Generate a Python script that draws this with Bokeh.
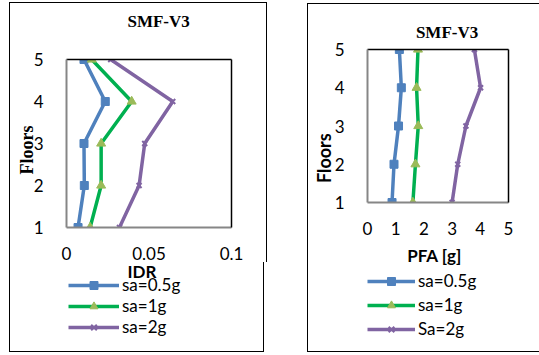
import math
from bokeh.plotting import figure
from bokeh.models import FixedTicker, LinearAxis, Legend, LegendItem, Label, Range1d, Spacer
from bokeh.layouts import row, column
from bokeh.embed import file_html
from bokeh.resources import INLINE

# ---------------- data ----------------
floors = [1, 2, 3, 4, 5]
idr_sa05 = [0.0070, 0.0108, 0.0106, 0.0235, 0.0106]
idr_sa1 = [0.0143, 0.0210, 0.0210, 0.0395, 0.0153]
idr_sa2 = [0.0321, 0.0440, 0.0474, 0.0644, 0.0268]
pfa_sa05 = [0.87, 0.94, 1.10, 1.20, 1.13]
pfa_sa1 = [1.61, 1.70, 1.80, 1.74, 1.79]
pfa_sa2 = [3.00, 3.20, 3.49, 4.01, 3.79]
idr_ticks = [0, 0.05, 0.1]
idr_tick_labels = ["0", "0.05", "0.1"]
pfa_ticks = [0, 1, 2, 3, 4, 5]
pfa_tick_labels = ["0", "1", "2", "3", "4", "5"]
floor_ticks = [1, 2, 3, 4, 5]
left_legend = ["sa=0.5g", "sa=1g", "sa=2g"]
right_legend = ["sa=0.5g", "sa=1g", "Sa=2g"]
title_text = "SMF-V3"

BLUE = "#4F81BD"
GREEN = "#00B050"
TRI = "#9BBB59"
PURPLE = "#8064A2"
SANS = "Lato"
SERIF = "Liberation Serif"
COLORS = [BLUE, GREEN, PURPLE]


def add_series(p, xs_list):
    out = []
    for i, xs in enumerate(xs_list):
        ln = p.line(xs, floors, line_color=COLORS[i], line_width=3.5)
        if i == 0:
            mk = p.scatter(xs, floors, marker="square", size=8, fill_color=BLUE, line_color=BLUE)
        elif i == 1:
            mk = p.scatter(xs, floors, marker="triangle", size=9, fill_color=TRI, line_color=TRI)
        else:
            mk = p.scatter(xs, floors, marker="x", size=7, line_color=PURPLE, line_width=2)
        out.append((ln, mk))
    return out


def make_main(xs_list, xr, ticks, tick_labels, frame, borders, width, height,
              title_pos, floors_pos, floors_font):
    fl, ft, fw, fh = frame
    bl, br, bt, bb = borders
    p = figure(width=width, height=height, frame_width=fw, frame_height=fh,
               x_range=Range1d(*xr), y_range=Range1d(1, 5),
               output_backend="svg", toolbar_location=None,
               min_border_left=bl, min_border_right=br, min_border_top=bt, min_border_bottom=bb,
               x_axis_location=None, y_axis_location=None)
    p.outline_line_color = None
    p.grid.visible = False
    p.background_fill_color = "white"
    p.border_fill_color = "white"

    xa = LinearAxis(ticker=FixedTicker(ticks=ticks),
                    major_label_overrides={t: l for t, l in zip(ticks, tick_labels)})
    ya = LinearAxis(ticker=FixedTicker(ticks=floor_ticks))
    for ax in (xa, ya):
        ax.axis_line_color = "#868686"
        ax.axis_line_width = 2
        ax.major_tick_line_color = None
        ax.minor_tick_line_color = None
        ax.major_label_text_font = SANS
        ax.major_label_text_font_size = "17px"
        ax.major_label_text_color = "#000000"
    xa.major_label_standoff = 13
    ya.major_label_standoff = 17
    p.add_layout(xa, "below")
    p.add_layout(ya, "left")
    for loc in ("above", "right"):
        ax = LinearAxis(ticker=FixedTicker(ticks=[]))
        ax.axis_line_color = "black"
        ax.axis_line_width = 1.5
        ax.major_tick_line_color = None
        ax.minor_tick_line_color = None
        ax.major_label_text_font_size = "1px"
        ax.major_label_standoff = 0
        p.add_layout(ax, loc)

    def dx(sx):
        return xr[0] + (sx - fl) / fw * (xr[1] - xr[0])

    def dy(sy):
        return 1 + (ft + fh - sy) / fh * 4

    add_series(p, xs_list)

    p.add_layout(Label(x=dx(title_pos[0]), y=dy(title_pos[1]), text=title_text,
                       text_font=SERIF, text_font_style="bold", text_font_size="17px",
                       text_align="center", text_baseline="middle", text_color="black"), "above")
    p.add_layout(Label(x=dx(floors_pos[0]), y=dy(floors_pos[1]), text="Floors", angle=math.pi / 2,
                       text_font=floors_font[0], text_font_style="bold", text_font_size=floors_font[1],
                       text_align="center", text_baseline="middle", text_color="black"), "left")
    return p


def make_legend_fig(xs_list, labels, width, height, borders, frame_left, top, xlabel, xlabel_pos, leg_cfg):
    # strip below the axes holding the axis title and the legend;
    # its frame lines up with the frame of the axes above it
    bl, br = borders
    fw = width - bl - br
    B = 1000  # keep the strip's range away from the data so only the legend shows the series
    p = figure(width=width, height=height, x_range=Range1d(B, B + fw), y_range=Range1d(B, B + height),
               output_backend="svg", toolbar_location=None,
               min_border_left=bl, min_border_right=br, min_border_top=0, min_border_bottom=0,
               x_axis_location=None, y_axis_location=None)
    p.outline_line_color = None
    p.grid.visible = False
    p.background_fill_color = "white"
    p.border_fill_color = "white"
    pairs = add_series(p, xs_list)
    items = [LegendItem(label=labels[i], renderers=list(pairs[i])) for i in range(3)]
    lx, ltop, spacing, gw, standoff = leg_cfg
    n = 3
    leg_h = n * 20 + (n - 1) * spacing
    leg = Legend(items=items, location=(lx - frame_left, height - (ltop - top) - leg_h),
                 orientation="vertical",
                 padding=0, margin=0, spacing=spacing, glyph_width=gw, glyph_height=20,
                 label_height=20, label_standoff=standoff,
                 label_text_font=SANS, label_text_font_size="17px", label_text_color="#000000",
                 border_line_color=None, background_fill_alpha=0)
    p.add_layout(leg, "center")
    p.add_layout(Label(x=B + xlabel_pos[0] - frame_left, y=B + height - (xlabel_pos[1] - top), text=xlabel,
                       text_font=SANS, text_font_style="bold", text_font_size="17px",
                       text_align="center", text_baseline="middle", text_color="black"))
    return p


# left panel: content box x 10..264, y 3..351
p1 = make_main([idr_sa05, idr_sa1, idr_sa2], (0, 0.1), idr_ticks, idr_tick_labels,
               frame=(65, 59, 163, 167), borders=(55, 37, 56, 36), width=255, height=259,
               title_pos=(156, 21), floors_pos=(26, 149), floors_font=(SERIF, "18px"))
l1 = make_legend_fig([idr_sa05, idr_sa1, idr_sa2], left_legend, width=255, height=90, borders=(55, 37),
                     frame_left=65, top=262, xlabel="IDR", xlabel_pos=(141, 271),
                     leg_cfg=(67, 277, 0, 51, 3))

# right panel: content box x 307..538, y 4..351
p2 = make_main([pfa_sa05, pfa_sa1, pfa_sa2], (0, 5), pfa_ticks, pfa_tick_labels,
               frame=(366, 49, 140, 152), borders=(59, 33, 45, 36), width=232, height=233,
               title_pos=(445, 32), floors_pos=(323, 157), floors_font=(SANS, "18px"))
l2 = make_legend_fig([pfa_sa05, pfa_sa1, pfa_sa2], right_legend, width=232, height=115, borders=(59, 33),
                     frame_left=366, top=237, xlabel="PFA [g]", xlabel_pos=(433, 255),
                     leg_cfg=(366, 273, 3, 48, 3))

p1.styles = {"border": "1px solid black", "border-bottom": "none"}
l1.styles = {"border": "1px solid black", "border-top": "none"}
p2.styles = {"border": "1px solid black", "border-bottom": "none", "border-right": "none"}
l2.styles = {"border": "1px solid black", "border-top": "none", "border-right": "none"}

layout = row(Spacer(width=9, height=10),
             column(Spacer(width=10, height=2), p1, l1),
             Spacer(width=40, height=10),
             column(Spacer(width=10, height=3), p2, l2))

open("out.html", "w").write(file_html(layout, INLINE))
